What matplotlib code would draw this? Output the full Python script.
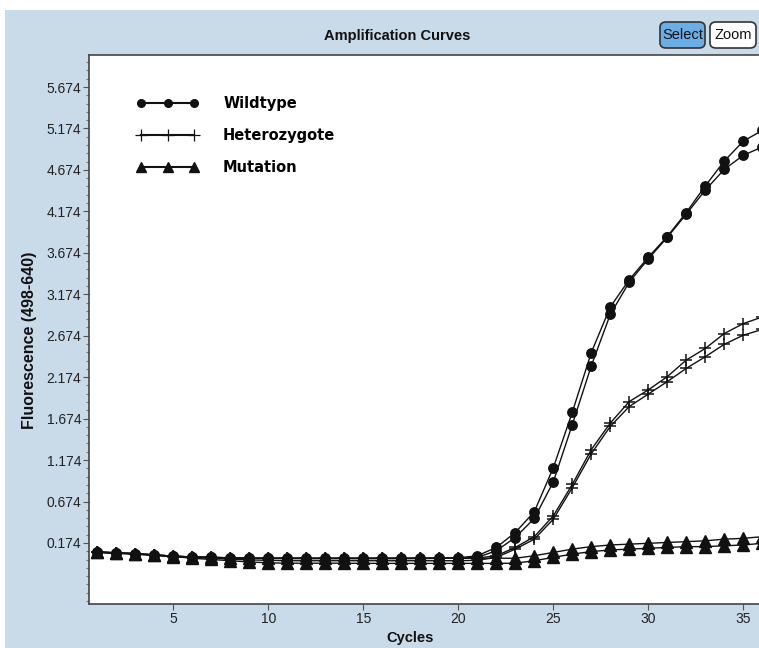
import numpy as np
import matplotlib
matplotlib.use("Agg")
import matplotlib.pyplot as plt
from matplotlib.lines import Line2D
from matplotlib.patches import Rectangle, FancyBboxPatch
from matplotlib.legend_handler import HandlerLine2D

# cycle numbers and fluorescence readings (498-640)
cycles = list(range(1, 37))

wildtype_a = [0.065, 0.055, 0.045, 0.030, 0.015, 0.005, 0.000, -0.005, -0.010, -0.010,
              -0.010, -0.012, -0.012, -0.012, -0.012, -0.012, -0.012, -0.010, -0.008, -0.005,
              0.020, 0.120, 0.300, 0.550, 1.080, 1.750, 2.470, 3.020, 3.350, 3.620,
              3.870, 4.160, 4.480, 4.780, 5.020, 5.150]
wildtype_b = [0.065, 0.055, 0.045, 0.030, 0.015, 0.005, 0.000, -0.005, -0.010, -0.012,
              -0.015, -0.015, -0.015, -0.015, -0.015, -0.015, -0.015, -0.015, -0.012, -0.010,
              0.000, 0.080, 0.240, 0.470, 0.910, 1.600, 2.310, 2.930, 3.320, 3.600,
              3.860, 4.140, 4.430, 4.680, 4.850, 4.950]
hetero_a = [0.065, 0.055, 0.045, 0.030, 0.015, 0.005, 0.000, -0.005, -0.010, -0.010,
            -0.010, -0.010, -0.010, -0.010, -0.010, -0.010, -0.010, -0.010, -0.010, -0.010,
            -0.008, 0.020, 0.120, 0.250, 0.500, 0.880, 1.300, 1.620, 1.880, 2.020,
            2.180, 2.380, 2.520, 2.700, 2.820, 2.900]
hetero_b = [0.060, 0.050, 0.040, 0.025, 0.010, 0.000, -0.010, -0.020, -0.030, -0.035,
            -0.040, -0.040, -0.040, -0.040, -0.040, -0.040, -0.040, -0.040, -0.040, -0.040,
            -0.035, 0.000, 0.100, 0.220, 0.460, 0.840, 1.250, 1.580, 1.820, 1.970,
            2.120, 2.280, 2.420, 2.570, 2.680, 2.750]
mutation_a = [0.065, 0.055, 0.045, 0.030, 0.015, 0.005, 0.000, -0.005, -0.010, -0.010,
              -0.010, -0.010, -0.010, -0.010, -0.010, -0.010, -0.010, -0.010, -0.010, -0.010,
              -0.010, -0.010, -0.010, 0.020, 0.060, 0.100, 0.130, 0.150, 0.160, 0.170,
              0.180, 0.190, 0.200, 0.220, 0.230, 0.250]
mutation_b = [0.060, 0.050, 0.040, 0.025, 0.010, -0.010, -0.025, -0.040, -0.055, -0.065,
              -0.070, -0.070, -0.070, -0.070, -0.072, -0.072, -0.072, -0.072, -0.072, -0.072,
              -0.072, -0.072, -0.070, -0.040, 0.000, 0.040, 0.070, 0.090, 0.100, 0.110,
              0.120, 0.130, 0.130, 0.140, 0.150, 0.170]

legend_labels = ["Wildtype", "Heterozygote", "Mutation"]
y_ticks = [0.174, 0.674, 1.174, 1.674, 2.174, 2.674, 3.174, 3.674, 4.174, 4.674, 5.174, 5.674]
x_ticks = [5, 10, 15, 20, 25, 30, 35]

W, H = 759, 648
bg = "#c9dae9"
ink = "#111111"
plt.rcParams['font.family'] = ['Liberation Sans', 'DejaVu Sans']

fig = plt.figure(figsize=(W / 100, H / 100), dpi=100, facecolor="white")
fig.patches.append(Rectangle((5 / W, 0), 1, 1 - 10 / H, transform=fig.transFigure,
                             facecolor=bg, edgecolor="none", zorder=-5))

ax = fig.add_axes([89 / W, 1 - 604 / H, 1 - 89 / W, (604 - 55) / H])
ax.set_zorder(1)
ax.set_facecolor("white")

for ys in (wildtype_a, wildtype_b):
    ax.plot(cycles, ys, color=ink, lw=1, marker="o", ms=6.8, mfc=ink, mec=ink)
for ys in (hetero_a, hetero_b):
    ax.plot(cycles, ys, color=ink, lw=1, marker="+", ms=9, mew=1.1, mec=ink)
for ys in (mutation_a, mutation_b):
    ax.plot(cycles, ys, color=ink, lw=1, marker="^", ms=8.5, mfc=ink, mec=ink)

ax.set_xlim(0.56, 35.83)
ax.set_ylim(-0.562, 6.06)
ax.set_yticks(y_ticks)
ax.set_yticklabels(["%.3f" % v for v in y_ticks])
ax.set_yticks(np.arange(-0.526, 6.0, 0.1), minor=True)
ax.set_xticks(x_ticks)
ax.tick_params(axis="both", which="major", length=4, width=0.8, color="#555555",
               labelsize=10, labelcolor="#222222", pad=1.5)
ax.tick_params(axis="y", which="minor", length=2.5, width=0.8, color="#777777")
for side in ("left", "bottom", "top"):
    ax.spines[side].set_color("#444444")
    ax.spines[side].set_linewidth(1.2)
ax.spines["right"].set_visible(False)

fig.text(397 / W, 1 - 36 / H, "Amplification Curves", ha="center", va="center",
         fontsize=10.5, fontweight="bold", color="#111111")
fig.text(410 / W, 1 - 638 / H, "Cycles", ha="center", va="center",
         fontsize=10.5, fontweight="bold", color="#111111")
fig.text(30 / W, 1 - 340 / H, "Fluorescence (498-640)", ha="center", va="center",
         rotation=90, fontsize=11.5, fontweight="bold", color="#111111")

# Select / Zoom buttons
for x0, x1, label, fc in [(660, 705, "Select", "#6aaee6"), (710, 756, "Zoom", "white")]:
    fig.patches.append(FancyBboxPatch((x0 / W, 1 - 48 / H), (x1 - x0) / W, 26 / H,
                                      boxstyle="round,pad=0,rounding_size=0.008",
                                      transform=fig.transFigure, facecolor=fc,
                                      edgecolor="#333333", lw=1.2, zorder=2))
    fig.text((x0 + x1) / 2 / W, 1 - 35 / H, label, ha="center", va="center",
             fontsize=10.5, color="#111111", zorder=3)

handles = [Line2D([], [], color=ink, lw=1.5, marker="o", ms=5.5, mfc=ink, mec=ink),
           Line2D([], [], color=ink, lw=1.5, marker="+", ms=8, mew=0.9, mec=ink),
           Line2D([], [], color=ink, lw=1.5, marker="^", ms=6.5, mfc=ink, mec=ink)]
leg = ax.legend(handles, legend_labels, loc="upper left",
                bbox_to_anchor=(121 / W, 1 - 89 / H), bbox_transform=fig.transFigure,
                frameon=False, borderpad=0, handlelength=5.4,
                handletextpad=1.1, labelspacing=1.15,
                handler_map={Line2D: HandlerLine2D(numpoints=3, marker_pad=0.9)},
                prop={"weight": "bold", "family": ["DejaVu Sans"], "size": 10.5})

fig.savefig("out.png", dpi=100, facecolor=fig.get_facecolor())
